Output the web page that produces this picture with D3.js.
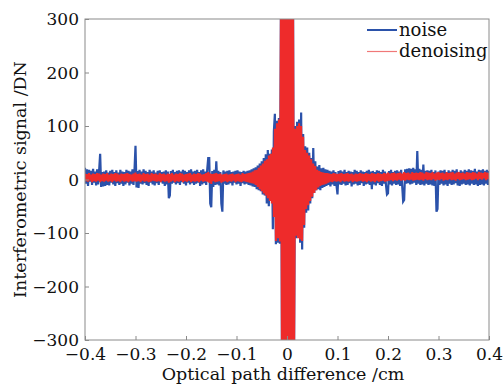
<!DOCTYPE html>
<html>
<head>
<meta charset="utf-8">
<script src="https://cdn.jsdelivr.net/npm/d3@7"></script>
<style>
  body { margin: 0; background: #fff; }
  text { font-family: "DejaVu Serif", "Liberation Serif", serif; fill: #111; }
</style>
</head>
<body>
<svg id="chart" width="503" height="387"></svg>
<script>
// sampling grid of the optical path difference (cm)
let opdStart = -0.4;
let opdStep = 0.002;

// noisy interferogram (DN)
let noise = [
  22,-8,19,-12,18,-4,16,-10,20,-6,
  15,-11,19,-9,17,48,-14,14,-13,15,
  -12,17,-10,13,-11,16,-6,18,-9,14,
  -12,17,-7,13,-10,18,-8,15,-12,14,
  -9,18,-6,16,-11,15,-8,19,-10,17,
  63,-15,16,-16,18,-8,15,-9,19,-7,
  16,-10,14,-12,18,-6,15,-9,17,-11,
  13,-7,16,-10,17,-5,14,-8,15,-12,
  17,-9,15,-35,-30,16,-8,18,-6,14,
  -9,16,-7,17,-10,15,-5,18,-8,16,
  -11,14,-6,17,-9,19,-7,15,-10,16,
  -8,18,-6,14,-12,17,-9,19,-7,15,
  -10,18,40,40,-45,-52,16,-14,18,-10,
  34,-9,16,-11,14,-45,-60,17,-8,15,
  -10,16,-9,17,-7,14,-11,15,-6,16,
  -9,17,-8,15,-12,14,-7,16,-9,15,
  -8,16,-10,17,-11,19,-13,21,-14,23,
  -18,26,-20,30,-22,34,-28,40,-30,47,
  -45,55,-50,48,-40,56,-93,90,123,-121,
  110,-118,115,-120,330,-330,330,-330,330,-330,
  330,-330,330,-330,330,-330,330,-330,100,-110,
  108,-100,112,-118,125,-131,85,-90,62,-62,
  60,-58,50,-45,40,-35,59,-25,34,-20,
  24,-18,27,-20,21,-16,22,-14,19,-12,
  18,-10,16,-13,15,-9,17,-12,14,-11,
  -28,16,-9,17,-10,15,-8,18,-11,14,
  -10,16,-7,15,-13,14,-9,18,-8,16,
  -11,14,-10,17,-7,15,-12,14,-9,16,
  -8,18,-10,15,-18,16,-9,14,-11,17,
  -7,16,-10,14,-12,18,-8,15,-10,-28,
  -26,16,-9,18,-11,14,-8,16,-10,17,
  -9,15,-12,18,-10,-41,-38,19,-8,20,
  -7,21,-9,20,-8,22,-6,19,-10,53,
  -8,20,-10,18,-9,28,-11,16,-8,17,
  -10,16,-9,18,-11,14,-12,17,-60,-55,
  15,-10,17,-8,16,-11,18,-9,14,-12,
  17,-8,15,-10,18,-9,16,-7,19,-11,
  14,-12,17,-9,15,-8,18,-10,16,-9,
  19,-11,17,-8,16,-10,20,-9,15,-12,
  18,-10,17,-9,19,-11,16,-8,18,-10,
  16
];

// denoised interferogram (DN)
let denoising = [
  11,-3,10,-4,12,-2,9,-5,11,-3,
  10,-4,12,-2,11,-5,9,-3,11,-4,
  10,-2,12,-4,9,-3,11,-5,10,-2,
  12,-4,11,-3,9,-5,11,-2,10,-4,
  11,-3,12,-5,10,-2,9,-4,11,-3,
  13,-4,10,-3,11,-5,9,-2,12,-4,
  10,-3,11,-5,9,-4,12,-2,10,-3,
  11,-4,9,-3,12,-5,10,-2,11,-4,
  9,-3,11,-6,10,-4,12,-2,9,-5,
  11,-3,10,-4,12,-2,11,-5,9,-3,
  10,-4,11,-2,12,-5,9,-3,11,-4,
  10,-3,12,-5,11,-2,9,-4,10,-3,
  12,-4,14,-6,11,-8,10,-3,11,-5,
  12,-4,10,-3,11,-6,9,-4,10,-3,
  11,-5,9,-3,10,-4,11,-2,9,-5,
  10,-3,11,-4,9,-5,12,-3,10,-4,
  11,-5,12,-6,13,-7,15,-8,17,-10,
  18,-14,22,-18,26,-22,30,-26,35,-30,
  38,-35,45,-40,48,-45,60,-70,95,-115,
  105,-110,112,-116,330,-330,330,-330,330,-330,
  330,-330,330,-330,330,-330,330,-330,95,-105,
  100,-110,105,-112,100,-115,80,-85,55,-55,
  50,-48,45,-40,38,-32,30,-25,25,-20,
  18,-15,16,-12,14,-10,13,-9,12,-8,
  12,-6,11,-4,10,-5,12,-3,11,-4,
  10,-3,11,-5,12,-2,10,-4,11,-3,
  12,-4,10,-2,11,-5,9,-3,11,-4,
  10,-3,12,-2,11,-4,10,-3,12,-5,
  11,-2,10,-4,12,-3,11,-5,10,-2,
  12,-4,11,-3,10,-2,12,-4,11,-3,
  13,-2,11,-1,12,-3,13,-1,11,-2,
  12,0,13,-2,11,-1,14,-2,12,0,
  13,-1,11,0,14,-2,12,-1,13,0,
  12,-1,14,0,13,-2,11,1,14,-1,
  13,0,12,-1,14,1,11,-2,13,0,
  14,-1,12,1,13,-2,11,0,14,-1,
  12,1,13,-1,14,0,11,-2,13,1,
  14,-1,12,0,13,1,11,-1,14,0,
  13,1,12,-1,14,0,13,2,11,-1,
  14,1,13,0,12,2,14,-1,13,1,
  12
];

let xTicks = [-0.4, -0.3, -0.2, -0.1, 0, 0.1, 0.2, 0.3, 0.4];
let yTicks = [-300, -200, -100, 0, 100, 200, 300];
let seriesNames = ['noise', 'denoising'];

const margin = {left: 85, right: 14, top: 19, bottom: 47};
const W = 503, H = 387;
const pw = W - margin.left - margin.right;
const ph = H - margin.top - margin.bottom;
const serif = '"DejaVu Serif", "Liberation Serif", serif';

const svg = d3.select('#chart');
const g = svg.append('g').attr('transform', `translate(${margin.left},${margin.top})`);

const x = d3.scaleLinear().domain([-0.4, 0.4]).range([0, pw]);
const y = d3.scaleLinear().domain([-300, 300]).range([ph, 0]);

const fmt = v => (v < 0 ? '\u2212' : '') + (Math.abs(v) < 1e-9 ? '0' : String(Math.abs(v)));

g.append('clipPath').attr('id', 'clip')
  .append('rect').attr('width', pw).attr('height', ph);

const line = d3.line()
  .x((d, i) => x(opdStart + i * opdStep))
  .y(d => y(d));

g.append('path')
  .datum(noise)
  .attr('clip-path', 'url(#clip)')
  .attr('fill', 'none')
  .attr('stroke', '#2b52aa')
  .attr('stroke-width', 2.2)
  .attr('d', line);

g.append('path')
  .datum(denoising)
  .attr('clip-path', 'url(#clip)')
  .attr('fill', 'none')
  .attr('stroke', '#ee2b2b')
  .attr('stroke-width', 2)
  .attr('d', line);

// box
g.append('rect')
  .attr('width', pw).attr('height', ph)
  .attr('fill', 'none').attr('stroke', '#8a8a8a').attr('stroke-width', 1);

const xAxis = g.append('g').attr('transform', `translate(0,${ph})`)
  .call(d3.axisBottom(x).tickValues(xTicks).tickSize(-4).tickPadding(6).tickFormat(fmt));
const yAxis = g.append('g')
  .call(d3.axisLeft(y).tickValues(yTicks).tickSize(-4).tickPadding(6).tickFormat(fmt));

[xAxis, yAxis].forEach(a => {
  a.attr('font-family', serif);
  a.select('.domain').remove();
  a.selectAll('line').attr('stroke', '#8a8a8a');
  a.selectAll('text').style('font-family', serif).style('font-size', '17px').attr('fill', '#111');
});
xAxis.selectAll('text').attr('dy', '0.85em');
yAxis.selectAll('text').attr('dy', '0.34em');

svg.append('text')
  .attr('x', margin.left + pw / 2 - 4).attr('y', 380)
  .attr('text-anchor', 'middle')
  .style('font-family', serif)
  .style('font-size', '17.5px')
  .text('Optical path difference /cm');

svg.append('text')
  .attr('transform', `translate(26,${margin.top + ph / 2}) rotate(-90)`)
  .attr('text-anchor', 'middle')
  .style('font-family', serif)
  .style('font-size', '17.5px')
  .text('Interferometric signal /DN');

// legend
const legend = svg.append('g');
const legColors = ['#2b52aa', '#f07878'];
const legWidths = [2, 1.2];
seriesNames.forEach((n, i) => {
  const ly = 30 + i * 21.5;
  legend.append('line')
    .attr('x1', 367).attr('x2', 397).attr('y1', ly).attr('y2', ly)
    .attr('stroke', legColors[i]).attr('stroke-width', legWidths[i]);
  legend.append('text')
    .attr('x', 399).attr('y', ly + 5.5)
    .style('font-family', serif)
    .style('font-size', '18px')
    .text(n);
});
</script>
</body>
</html>
